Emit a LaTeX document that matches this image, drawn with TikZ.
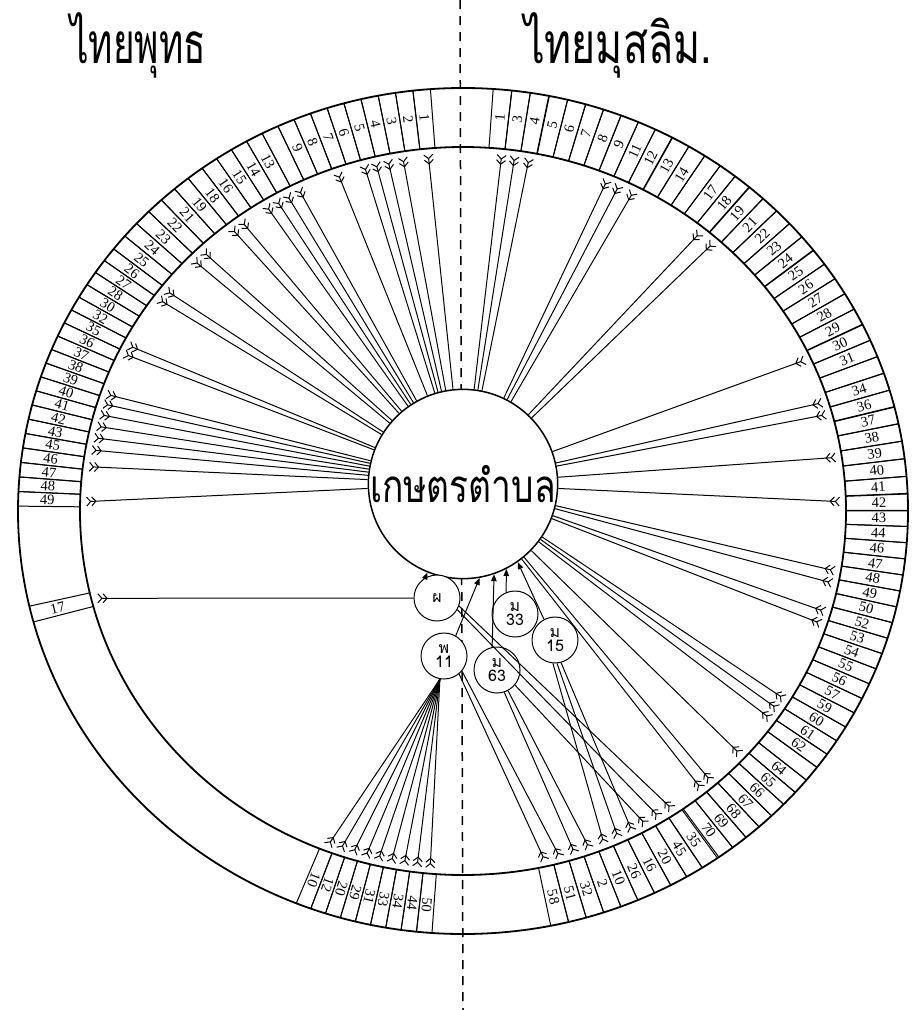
\documentclass[tikz,border=0pt]{standalone}
\usepackage{fontspec}
\usepackage{graphicx}
\setmainfont{Liberation Serif}
\newfontfamily\thaifont[Script=Thai]{Loma}
\usetikzlibrary{arrows.meta}
\begin{document}
\begin{tikzpicture}[x=1pt,y=1pt,
  ringline/.style={line width=1.8pt},
  divider/.style={line width=1.0pt},
  link/.style={line width=1.0pt},
  chev/.style={-{Straight Barb[reversed,length=4pt,width=9pt,line width=1pt]Straight Barb[reversed,length=4pt,width=9pt,line width=1pt]}},
  tri/.style={-{Triangle[length=7pt,width=5.5pt]}},
  lab/.style={font=\fontsize{14.5}{14.5}\selectfont, inner sep=0pt},
  small/.style={circle,draw,line width=1pt,fill=white,minimum size=46pt,inner sep=0pt,align=center,font=\thaifont\fontsize{16}{14}\selectfont},
  title/.style={inner sep=0pt}
]
\useasboundingbox (0,0) rectangle (912,-1010);
\fill[white] (0,0) rectangle (912,-1010);
\node[title] (t1) at (138,-45) {\scalebox{0.88}[1.35]{\thaifont\fontsize{42}{42}\selectfont ไทยพุทธ}};
\node[title] (t2) at (618,-45) {\scalebox{0.98}[1.35]{\thaifont\fontsize{42}{42}\selectfont ไทยมุสลิม.}};
\coordinate (dtop) at (460,0);
\coordinate (dbot) at (463,-1010);
\draw[line width=1.5pt,dash pattern=on 9pt off 7pt] (dtop) -- (dbot);
\begin{scope}[shift={(463,-511)},x=1pt,y=0.9506pt]
 \draw[ringline] (0,0) ellipse [x radius=445pt, y radius=423pt];
 \draw[ringline] (0,0) ellipse [x radius=383pt, y radius=364pt];
 % right side, top
 \foreach \c/\l [count=\k] in {84.9/1,82.5/3,80.1/4,77.6/5,75.2/6,72.8/7,70.4/8,68.0/9,65.6/11,63.2/12,60.7/13,58.3/14,55.9/{}} {
   \draw[divider] ({\c+1.21}:383) -- ({\c+1.21}:445);
   \draw[divider] ({\c-1.21}:383) -- ({\c-1.21}:445);
   \node[lab,rotate=\c] (ra\k) at (\c:416) {\l};
 }
 \foreach \c/\l [count=\k] in {53.5/17,51.1/18,48.8/19,46.4/21,44.0/22,41.6/23,39.2/24,36.9/25,34.5/26,32.1/27,29.7/28,27.3/29,25.0/30,22.6/31,20.2/{},17.8/34,15.4/36,13.1/37,10.7/38,8.3/39,5.9/40,3.5/41,1.2/42} {
   \draw[divider] ({\c+1.19}:383) -- ({\c+1.19}:445);
   \draw[divider] ({\c-1.19}:383) -- ({\c-1.19}:445);
   \node[lab,rotate=\c] (rb\k) at (\c:416) {\l};
 }
 \foreach \c/\l [count=\k] in {-1.0/43,-3.2/44,-5.4/46,-7.6/47,-9.8/48,-12.0/49,-14.2/50,-16.4/52,-18.6/53,-20.8/54,-23.0/55,-25.2/56,-27.4/57,-29.6/59,-31.8/60,-34.0/61,-36.2/62,-38.4/{},-40.6/64,-42.8/65,-45.0/66,-47.2/67,-49.4/68,-51.6/69,-53.8/70} {
   \draw[divider] ({\c+1.1}:383) -- ({\c+1.1}:445);
   \draw[divider] ({\c-1.1}:383) -- ({\c-1.1}:445);
   \node[lab,rotate=\c] (rc\k) at (\c:416) {\l};
 }
 \foreach \c/\l [count=\k] in {-56.3/35,-58.65/45,-61.0/20,-63.35/16,-65.7/26,-68.05/10,-70.4/2,-72.75/32,-75.1/51,-77.45/58} {
   \draw[divider] ({\c+1.175}:383) -- ({\c+1.175}:445);
   \draw[divider] ({\c-1.175}:383) -- ({\c-1.175}:445);
   \node[lab,rotate=\c] (rd\k) at (\c:416) {\l};
   \coordinate (RD\k) at (\c:377);
 }
 % left side, top
 \foreach \c/\l [count=\k] in {95.33/1,97.6/2,99.86/3,102.12/4,104.39/5,106.65/6,108.91/7,111.18/8,113.44/9,115.70/{},117.96/13,120.23/14,122.49/15,124.75/16,127.02/18,129.28/19,131.54/21,133.81/22,136.07/23,138.33/24,140.59/25} {
   \draw[divider] ({\c+1.13}:383) -- ({\c+1.13}:445);
   \draw[divider] ({\c-1.13}:383) -- ({\c-1.13}:445);
   \node[lab,rotate={\c-180}] (la\k) at (\c:416) {\l};
 }
 % left side, middle
 \foreach \c/\l [count=\k] in {142.71/26,144.69/27,146.67/28,148.65/30,150.63/32,152.61/35,154.59/36,156.57/37,158.55/38,160.53/39,162.51/40,164.49/41,166.47/42,168.45/43,170.43/45,172.41/46,174.39/47,176.37/48,178.35/49} {
   \draw[divider] ({\c+0.99}:383) -- ({\c+0.99}:445);
   \draw[divider] ({\c-0.99}:383) -- ({\c-0.99}:445);
   \node[lab,rotate={\c-180}] (lb\k) at (\c:416) {\l};
 }
 % lower left single
 \draw[divider] (193:383) -- (193:445);
 \draw[divider] (195.2:383) -- (195.2:445);
 \node[lab,rotate=14] (ll1) at (194.1:418) {17};
 \coordinate (LL1) at (194.1:377);
 % bottom left
 \foreach \c/\l [count=\k] in {-111/10,-109/12,-107/20,-105/29,-103/31,-101/33,-99/34,-97/44,-95/50} {
   \draw[divider] ({\c+1}:383) -- ({\c+1}:445);
   \draw[divider] ({\c-1}:383) -- ({\c-1}:445);
   \node[lab,rotate=\c] (bl\k) at (\c:416) {\l};
   \coordinate (BL\k) at (\c:377);
 }
 % ring end points of links to hub
 \foreach \t [count=\k] in {95.3,99.2,101.5,103.4,105.2,109.4,115.9,117.9,119.7,121.5,126.0,127.9,133.6,135.6,142.0,143.8,152.5,154.0,161.0,162.6,164.4,166.3,168.2,170.2,172.9,178.5,84.1,82.1,79.9,67.5,65.5,63.1,51.0,48.4,24.9,17.6,15.6,8.6,1.5,-9.6,-11.6,-16.3,-18.3,-31.6,-33.5,-35.4,-42.7,-48.9,-50.8} {
   \coordinate (E\k) at (\t:377);
 }
\end{scope}
% hub and small circles
\node[circle,draw,line width=1.5pt,fill=white,minimum size=172pt,inner sep=0pt] (hub) at (463,-484) {\scalebox{0.93}[1.2]{\thaifont\fontsize{38}{38}\selectfont เกษตรตำบล}};
\node[small] (ph) at (437,-598) {ผ};
\node[small] (p11) at (444,-656) {พ\\11};
\node[small] (m33) at (515,-614) {ม\\33};
\node[small] (m63) at (497,-670) {ม\\63};
\node[small] (m15) at (555,-640) {ม\\15};
% links ring -> hub
\foreach \k in {1,...,49} { \draw[link,chev] (hub) -- (E\k); }
% small circles to hub
\draw[link,tri] (ph.120) -- (hub.-112);
\draw[link,tri] (p11.60) -- (hub.-80.6);
\draw[link,tri] (m63.102) -- (hub.-71.7);
\draw[link,tri] (m33.112) -- (hub.-63);
\draw[link,tri] (m15.118) -- (hub.-55);
% lower-left to ph
\draw[link,chev] (ph.west) -- (LL1);
% bottom-left to p11
\foreach \k in {1,...,9} { \draw[link,chev] (p11.-100) -- (BL\k); }
% bottom-right
\draw[link,chev] (p11.-50) -- (RD10);
\draw[link,chev] (p11.-40) -- (RD9);
\draw[link,chev] (m63.-72) -- (RD8);
\draw[link,chev] (m63.-62) -- (RD7);
\draw[link,chev] (m15.-95) -- (RD6);
\draw[link,chev] (m15.-85) -- (RD5);
\draw[link,chev] (m15.-75) -- (RD4);
\draw[link,chev] (m63.-40) -- (RD3);
\draw[link,chev] (ph.-30) -- (RD2);
\draw[link,chev] (ph.-20) -- (RD1);
\end{tikzpicture}
\end{document}
